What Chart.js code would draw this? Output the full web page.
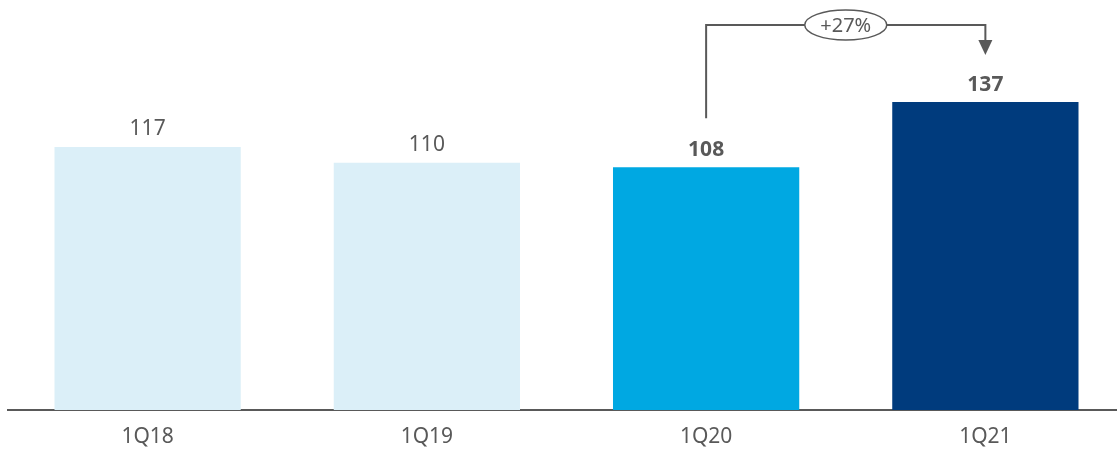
<!DOCTYPE html>
<html lang="en">
<head>
    <meta charset="UTF-8" />
    <title>Quarterly Comparison</title>
    <script src="https://cdn.jsdelivr.net/npm/chart.js"></script>
    <style>
        body {
            margin: 0;
            background-color: #fff;
            overflow: hidden;
        }

        .container {
            width: 1125px;
            height: 451px;
            position: relative;
        }
    </style>
</head>
<body>
    <div class="container">
        <canvas id="quarterChart"></canvas>
    </div>

    <script>
        const quarters = ['1Q18', '1Q19', '1Q20', '1Q21'];
        const values = [117, 110, 108, 137];
        const barColors = ['#dbeff8', '#dbeff8', '#00a8e2', '#003b7d'];
        const boldLabels = [false, false, true, true];
        const growthLabel = '+27%';

        const textColor = '#595959';
        const fontName = "'Noto Sans', sans-serif";

        // value labels above the bars and the growth bracket
        const annotations = {
            id: 'annotations',
            afterDatasetsDraw(chart) {
                const ctx = chart.ctx;
                const meta = chart.getDatasetMeta(0);
                ctx.save();
                ctx.fillStyle = textColor;
                ctx.textAlign = 'center';
                ctx.textBaseline = 'bottom';
                meta.data.forEach((bar, i) => {
                    ctx.font = (boldLabels[i] ? 'bold ' : '') + '21px ' + fontName;
                    ctx.fillText(values[i], bar.x, bar.y - 7);
                });

                const from = meta.data[2];
                const to = meta.data[3];
                const topY = 25;
                ctx.strokeStyle = textColor;
                ctx.lineWidth = 2;
                ctx.beginPath();
                ctx.moveTo(from.x, from.y - 49);
                ctx.lineTo(from.x, topY);
                ctx.lineTo(to.x, topY);
                ctx.lineTo(to.x, 42);
                ctx.stroke();

                ctx.fillStyle = textColor;
                ctx.beginPath();
                ctx.moveTo(to.x - 7, 40);
                ctx.lineTo(to.x + 7, 40);
                ctx.lineTo(to.x, 55);
                ctx.closePath();
                ctx.fill();

                const cx = (from.x + to.x) / 2;
                ctx.fillStyle = '#fff';
                ctx.lineWidth = 1.5;
                ctx.beginPath();
                ctx.ellipse(cx, topY, 41, 15, 0, 0, Math.PI * 2);
                ctx.fill();
                ctx.stroke();

                ctx.fillStyle = textColor;
                ctx.font = '20px ' + fontName;
                ctx.textBaseline = 'middle';
                ctx.fillText(growthLabel, cx, topY + 1);
                ctx.restore();
            }
        };

        new Chart(document.getElementById('quarterChart'), {
            type: 'bar',
            data: {
                labels: quarters,
                datasets: [{
                    data: values,
                    backgroundColor: barColors,
                    barPercentage: 0.667,
                    categoryPercentage: 1
                }]
            },
            options: {
                responsive: true,
                maintainAspectRatio: false,
                animation: false,
                layout: {
                    padding: { left: 8, right: 0, top: 0, bottom: 0 }
                },
                plugins: {
                    legend: { display: false },
                    tooltip: { enabled: false }
                },
                scales: {
                    x: {
                        grid: { display: false, drawTicks: false },
                        border: { display: true, color: textColor, width: 2 },
                        ticks: {
                            color: textColor,
                            padding: 14,
                            font: { family: fontName, size: 21 }
                        },
                        afterFit(scale) {
                            scale.height = 41;
                        }
                    },
                    y: {
                        display: false,
                        min: 0,
                        max: 182.4
                    }
                }
            },
            plugins: [annotations]
        });
    </script>
</body>
</html>
